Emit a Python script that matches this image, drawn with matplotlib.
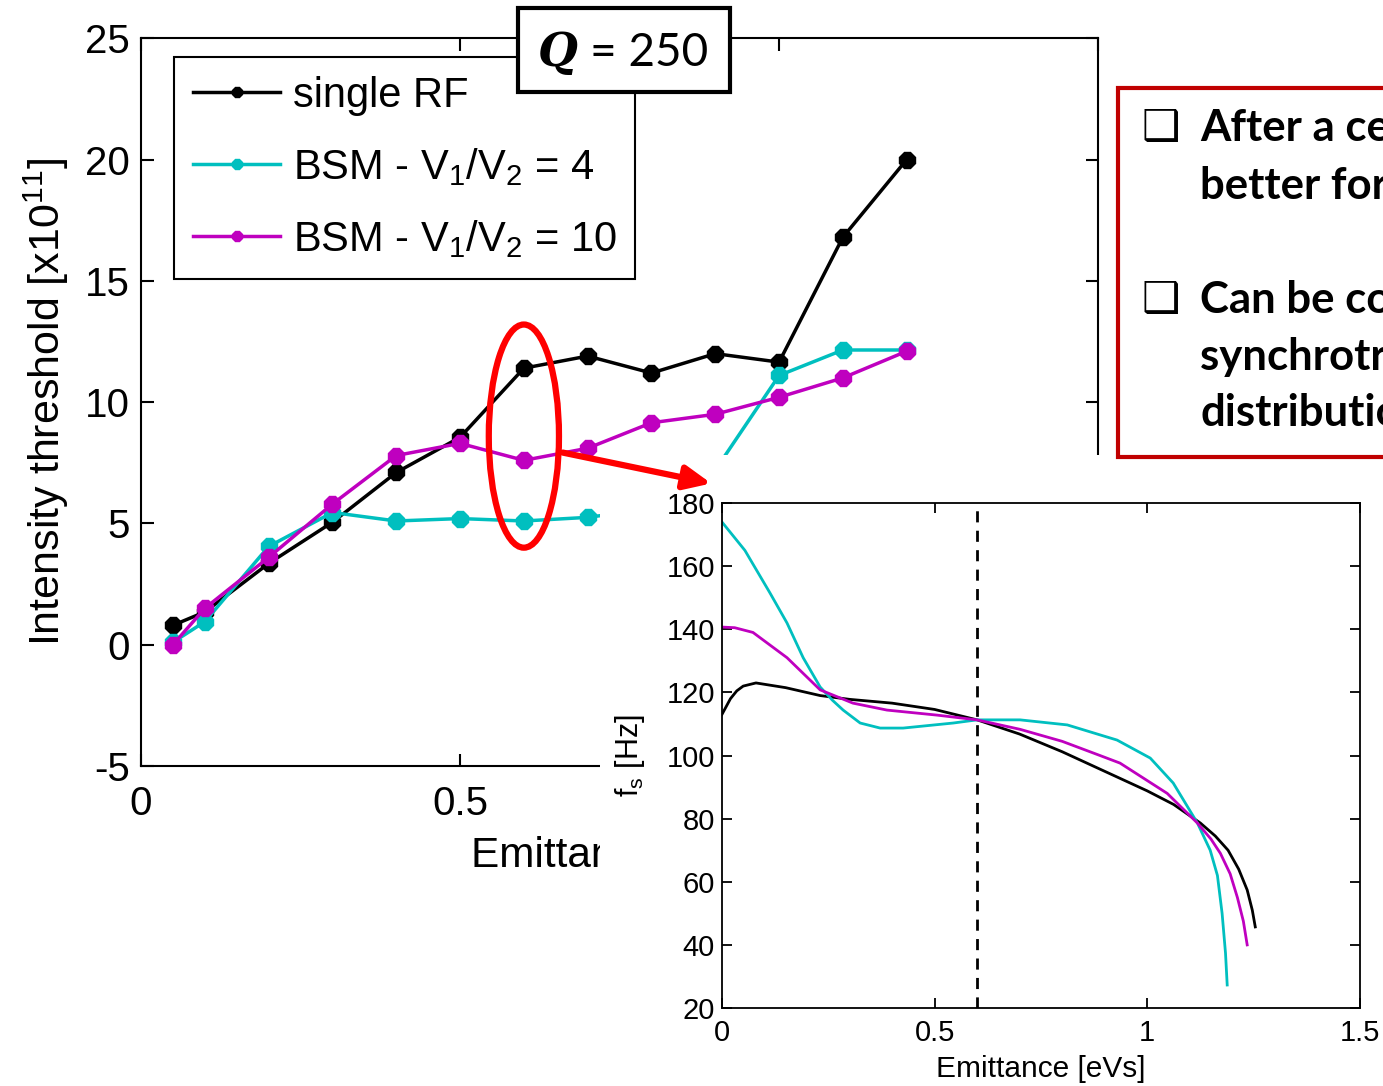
import numpy as np
import matplotlib.pyplot as plt
from matplotlib.patches import Rectangle, Ellipse, FancyArrowPatch

plt.rcParams['font.family'] = ['Liberation Sans', 'DejaVu Sans']
plt.rcParams['mathtext.default'] = 'regular'
plt.rcParams['mathtext.fontset'] = 'dejavuserif'
plt.rcParams['axes.unicode_minus'] = False

# ── main panel: intensity threshold vs emittance ────────────────────────────
emit = [0.05, 0.1, 0.2, 0.3, 0.4, 0.5, 0.6, 0.7, 0.8, 0.9, 1.0, 1.1, 1.2]
thr_single = [0.8, 1.35, 3.35, 5.05, 7.1, 8.55, 11.4, 11.9, 11.2, 12.0, 11.65, 16.8, 20.0]
thr_bsm4 = [0.1, 0.95, 4.05, 5.45, 5.1, 5.2, 5.1, 5.25, 5.6, 7.2, 11.1, 12.15, 12.15]
thr_bsm10 = [0.0, 1.5, 3.6, 5.8, 7.8, 8.3, 7.6, 8.1, 9.15, 9.5, 10.2, 11.0, 12.1]
labels = ['single RF', 'BSM - V$_1$/V$_2$ = 4', 'BSM - V$_1$/V$_2$ = 10']

# ── inset: synchrotron frequency distribution ───────────────────────────────
fs_single_x = [0, 0.01, 0.02, 0.035, 0.05, 0.08, 0.15, 0.231, 0.3, 0.4, 0.5, 0.6,
               0.7, 0.8, 0.9, 1.0, 1.062, 1.125, 1.16, 1.19, 1.215, 1.235, 1.247,
               1.254]
fs_single_y = [113, 115.5, 118, 120.5, 122, 123, 121.5, 119, 117.8, 116.6, 114.6,
               111.3, 106.8, 101.2, 95.0, 88.8, 84.5, 78.6, 74.5, 70, 64, 57.4,
               51, 45.7]
fs_bsm4_x = [0, 0.054, 0.113, 0.153, 0.191, 0.231, 0.26, 0.285, 0.325, 0.372,
             0.426, 0.544, 0.6, 0.701, 0.812, 0.929, 1.007, 1.061, 1.118, 1.148,
             1.165, 1.176, 1.184, 1.188]
fs_bsm4_y = [174, 165, 151.5, 142, 131, 121.7, 117.5, 114.4, 110.3, 108.7,
             108.7, 110.3, 111.3, 111.3, 109.7, 104.9, 99.2, 91.3, 78.6, 70,
             62, 50, 37.4, 27.3]
fs_bsm10_x = [0, 0.03, 0.073, 0.153, 0.231, 0.308, 0.388, 0.506, 0.6, 0.701,
              0.8, 0.889, 0.936, 1.047, 1.118, 1.15, 1.172, 1.195, 1.212, 1.226,
              1.235]
fs_bsm10_y = [140.7, 140.5, 139, 131, 120.8, 116.6, 114.4, 112.8, 111.3, 108.3,
              104.5, 100, 97.6, 88, 78.6, 73.5, 69, 62.5, 55, 47.5, 40]
emit_ref = 0.6

BLACK, CYAN, MAGENTA = 'black', '#00BFBF', '#BF00BF'

fig = plt.figure(figsize=(13.83, 10.86), dpi=100)

# ── main axes ────────────────────────────────────────────────────────────────
ax = fig.add_axes([0.102, 0.2947, 0.692, 0.670])
for yv, c, lab in [(thr_single, BLACK, labels[0]),
                   (thr_bsm4, CYAN, labels[1]),
                   (thr_bsm10, MAGENTA, labels[2])]:
    ax.plot(emit, yv, '-', color=c, lw=2.5, marker='8', ms=12, label=lab)

ax.set_xlim(0, 1.5)
ax.set_ylim(-5, 25)
ax.set_xticks([0, 0.5, 1, 1.5])
ax.set_xticklabels(['0', '0.5', '1', '1.5'])
ax.set_yticks(np.arange(-5, 26, 5))
ax.tick_params(direction='in', top=True, right=True, length=9, width=1.5,
               labelsize=29)
ax.tick_params(axis='x', pad=14)
ax.tick_params(axis='y', pad=8)
for s in ax.spines.values():
    s.set_linewidth(1.5)
ax.set_xlabel('Emittance [eVs]', fontsize=30.5, labelpad=9)
ax.set_ylabel('Intensity threshold [x10$^{11}$]', fontsize=31, labelpad=10)

leg = ax.legend(loc='upper left', bbox_to_anchor=(0.0345, 0.974), borderaxespad=0,
                fontsize=30, fancybox=False, framealpha=1, edgecolor='black',
                handlelength=2.1, markerscale=0.7, labelspacing=0.72,
                borderpad=0.45, handletextpad=0.3)
leg.get_frame().set_linewidth(1.5)

# red ellipse marking emittance 0.6
ax.add_patch(Ellipse((0.6, 8.6), 0.11, 9.2, fill=False, ec='red', lw=4.5,
                     zorder=6, clip_on=False))

# white backdrop of the inset picture
fig.add_artist(Rectangle((0.434, 0.0), 0.566, 0.581, transform=fig.transFigure,
                         fc='white', ec='none', zorder=0.5))

# ── inset axes ───────────────────────────────────────────────────────────────
ax2 = fig.add_axes([0.522, 0.0718, 0.4613, 0.465])
ax2.set_zorder(1)
ax2.plot(fs_single_x, fs_single_y, color=BLACK, lw=2)
ax2.plot(fs_bsm4_x, fs_bsm4_y, color=CYAN, lw=2)
ax2.plot(fs_bsm10_x, fs_bsm10_y, color=MAGENTA, lw=2)
ax2.axvline(emit_ref, color='black', ls=(0, (4, 3)), lw=2)
ax2.set_xlim(0, 1.5)
ax2.set_ylim(20, 180)
ax2.set_xticks([0, 0.5, 1, 1.5])
ax2.set_xticklabels(['0', '0.5', '1', '1.5'])
ax2.set_yticks(np.arange(20, 181, 20))
ax2.tick_params(direction='in', top=True, right=True, length=7, width=1.3,
                labelsize=21)
ax2.tick_params(axis='x', pad=8)
ax2.tick_params(axis='y', pad=5)
for s in ax2.spines.values():
    s.set_linewidth(1.3)
ax2.set_xlabel('Emittance [eVs]', fontsize=21.5, labelpad=6)
ax2.set_ylabel('f$_s$ [Hz]', fontsize=22, labelpad=14)

# ── annotations ──────────────────────────────────────────────────────────────
fig.add_artist(FancyArrowPatch((560 / 1383, 1 - 452 / 1086), (714 / 1383, 1 - 484 / 1086),
                               transform=fig.transFigure, color='red', lw=4.5,
                               arrowstyle='-|>,head_length=0.8,head_width=0.36',
                               mutation_scale=20, zorder=10))

# Q box
fig.add_artist(Rectangle((0.3745, 0.9153), 0.1533, 0.0773, transform=fig.transFigure,
                         fc='white', ec='black', lw=3, zorder=10))
fig.text(0.4030, 0.951, r'$\boldsymbol{Q}$', fontsize=33, ha='center', va='center',
         zorder=11)
fig.text(0.4266, 0.951, '= 250', fontsize=33, family='Lato', ha='left',
         va='center', zorder=11)

# red comment box on the right (cut by the slide edge)
fig.add_artist(Rectangle((0.8084, 0.5792), 0.25, 0.3398, transform=fig.transFigure,
                         fc='white', ec='#C00000', lw=3, zorder=10, clip_on=False))
bullets = [(0.8821, 'After a certain emittance BSM is'),
           (0.8287, 'better for stability'),
           (0.7238, 'Can be correlated with the'),
           (0.6713, 'synchrotron frequency'),
           (0.6197, 'distribution')]
for i, (yy, txt) in enumerate(bullets):
    if i in (0, 2):
        fig.text(0.8395, yy, '\u2751', fontsize=31, family='DejaVu Sans',
                 ha='center', va='center', zorder=11)
    fig.text(0.8677, yy, txt, fontsize=31.5, family='Lato', fontweight='bold',
             ha='left', va='center', zorder=11)

fig.savefig('out.png', dpi=100)
